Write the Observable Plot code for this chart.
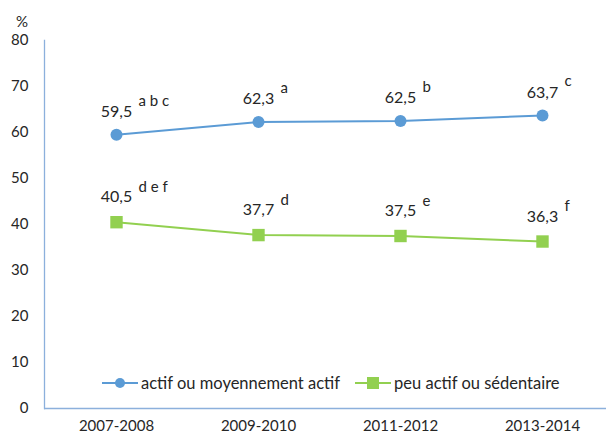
<!DOCTYPE html>
<html>
<head>
<meta charset="utf-8">
<script src="https://cdn.jsdelivr.net/npm/d3@7"></script>
<script src="https://cdn.jsdelivr.net/npm/@observablehq/plot@0.6"></script>
<style>
  body { margin: 0; background: #fff; font-family: Lato, "Open Sans", sans-serif; }
  #chart { position: relative; width: 606px; height: 437px; overflow: hidden; }
  #pct { position: absolute; left: 16px; top: 12px; font-size: 15px; color: #262626; }
  #legend { position: absolute; left: 102px; top: 373px; display: flex; align-items: center; font-size: 16.5px; color: #262626; }
  #legend .item { display: flex; align-items: center; margin-right: 15px; }
  #legend svg { margin-right: 2px; }
</style>
</head>
<body>
<div id="chart"><div id="pct">%</div><div id="legend"></div></div>
<script>
const periods = ["2007-2008", "2009-2010", "2011-2012", "2013-2014"];
const actifValues = [59.5, 62.3, 62.5, 63.7];
const actifLetters = ["a b c", "a", "b", "c"];
const peuValues = [40.5, 37.7, 37.5, 36.3];
const peuLetters = ["d e f", "d", "e", "f"];
const seriesNames = ["actif ou moyennement actif", "peu actif ou sédentaire"];
const seriesColors = ["#5B9BD5", "#92D050"];
const yTicks = [0, 10, 20, 30, 40, 50, 60, 70, 80];

const fmt = v => d3.format(".1f")(v).replace(".", ",");
const actif = periods.map((p, i) => ({period: p, value: actifValues[i], sup: actifLetters[i]}));
const peu = periods.map((p, i) => ({period: p, value: peuValues[i], sup: peuLetters[i]}));
const axisColor = "#8CB0DC";
const textColor = "#262626";

const plot = Plot.plot({
  width: 606,
  height: 437,
  marginTop: 40,
  marginBottom: 29,
  marginLeft: 44,
  marginRight: 0,
  style: {fontFamily: "Lato, 'Open Sans', sans-serif", fontSize: "15px", color: textColor, background: "white"},
  x: {type: "point", domain: periods, range: [44, 614], padding: 0.5},
  y: {domain: [0, 80]},
  marks: [
    Plot.axisY({ticks: yTicks, tickSize: 0, tickPadding: 16, label: null, fontSize: 15}),
    Plot.axisX({tickSize: 0, tickPadding: 12, label: null, fontSize: 15}),
    Plot.frame({anchor: "left", stroke: axisColor, strokeWidth: 1.3}),
    Plot.ruleY([0], {stroke: axisColor, strokeWidth: 1.3}),
    Plot.line(actif, {x: "period", y: "value", stroke: seriesColors[0], strokeWidth: 2}),
    Plot.dot(actif, {x: "period", y: "value", r: 6, fill: seriesColors[0], stroke: null}),
    Plot.line(peu, {x: "period", y: "value", stroke: seriesColors[1], strokeWidth: 2}),
    Plot.dot(peu, {x: "period", y: "value", symbol: "square", r: 7, fill: seriesColors[1], stroke: null}),
    Plot.text(actif, {x: "period", y: "value", text: d => fmt(d.value), dy: -23, fill: textColor, fontSize: 16}),
    Plot.text(actif, {x: "period", y: "value", text: "sup", dx: 22, dy: -34, textAnchor: "start", fill: textColor, fontSize: 15}),
    Plot.text(peu, {x: "period", y: "value", text: d => fmt(d.value), dy: -25, fill: textColor, fontSize: 16}),
    Plot.text(peu, {x: "period", y: "value", text: "sup", dx: 22, dy: -35, textAnchor: "start", fill: textColor, fontSize: 15})
  ]
});
document.getElementById("chart").prepend(plot);

const legend = document.getElementById("legend");
seriesNames.forEach((name, i) => {
  const item = document.createElement("div");
  item.className = "item";
  const marker = i === 0
    ? `<circle cx="18" cy="8" r="5" fill="${seriesColors[i]}"/>`
    : `<rect x="12" y="2" width="12" height="12" fill="${seriesColors[i]}"/>`;
  item.innerHTML = `<svg width="37" height="16"><line x1="0" x2="36" y1="8" y2="8" stroke="${seriesColors[i]}" stroke-width="2"/>${marker}</svg><span>${name}</span>`;
  legend.appendChild(item);
});
</script>
</body>
</html>
